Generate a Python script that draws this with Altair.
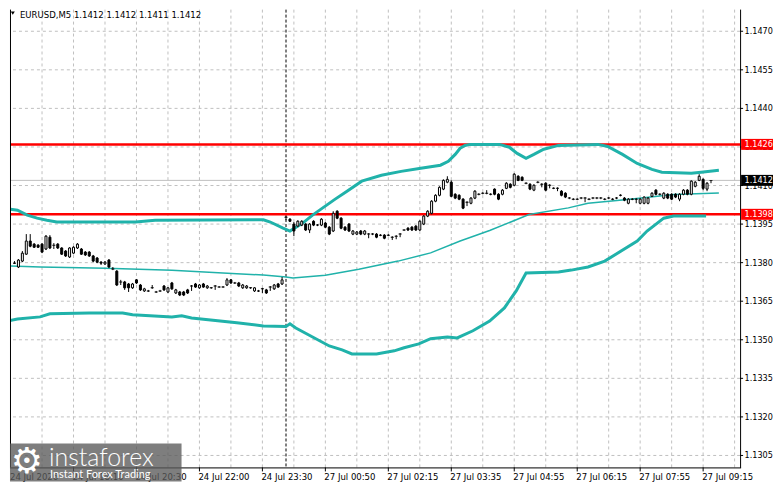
import altair as alt
import pandas as pd

# ---------------- data ----------------
opens = [
    1.13798, 1.13783, 1.13806, 1.13833, 1.13884, 1.13872, 1.13868, 1.13872, 1.13853, 1.13899,
    1.13868, 1.13872, 1.13857, 1.13845, 1.13822, 1.13837, 1.13857, 1.13853, 1.13841, 1.13841,
    1.13826, 1.13818, 1.13802, 1.13795, 1.13810, 1.13775, 1.13767, 1.13725, 1.13725, 1.13717,
    1.13702, 1.13733, 1.13713, 1.13690, 1.13690, 1.13702, 1.13686, 1.13690, 1.13709, 1.13686,
    1.13721, 1.13682, 1.13686, 1.13686, 1.13694, 1.13709, 1.13717, 1.13702, 1.13717, 1.13702,
    1.13702, 1.13709, 1.13705, 1.13705, 1.13713, 1.13733, 1.13721, 1.13721, 1.13702, 1.13702,
    1.13702, 1.13690, 1.13690, 1.13698, 1.13694, 1.13705, 1.13698, 1.13717, 1.13717, 1.13977,
    1.13969, 1.13950, 1.13942, 1.13946, 1.13950, 1.13927, 1.13961, 1.13946, 1.13946, 1.13954,
    1.13938, 1.13923, 1.14000, 1.13973, 1.13938, 1.13950, 1.13911, 1.13911, 1.13923, 1.13911,
    1.13911, 1.13911, 1.13911, 1.13907, 1.13907, 1.13907, 1.13899, 1.13903, 1.13911, 1.13927,
    1.13934, 1.13938, 1.13942, 1.13927, 1.13950, 1.13981, 1.13992, 1.14039, 1.14062, 1.14086,
    1.14113, 1.14113, 1.14066, 1.14062, 1.14047, 1.14035, 1.14031, 1.14051, 1.14066, 1.14070,
    1.14070, 1.14066, 1.14086, 1.14066, 1.14066, 1.14089, 1.14105, 1.14101, 1.14136, 1.14132,
    1.14109, 1.14105, 1.14082, 1.14113, 1.14105, 1.14109, 1.14101, 1.14089, 1.14089, 1.14078,
    1.14070, 1.14051, 1.14047, 1.14047, 1.14051, 1.14051, 1.14047, 1.14051, 1.14051, 1.14051,
    1.14047, 1.14051, 1.14047, 1.14051, 1.14062, 1.14051, 1.14031, 1.14047, 1.14047, 1.14031,
    1.14031, 1.14031, 1.14058, 1.14082, 1.14066, 1.14051, 1.14066, 1.14066, 1.14066, 1.14047,
    1.14066, 1.14082, 1.14066, 1.14097, 1.14120, 1.14124, 1.14086, 1.14120,
]
highs = [
    1.13806, 1.13814, 1.13845, 1.13911, 1.13911, 1.13876, 1.13872, 1.13876, 1.13907, 1.13907,
    1.13876, 1.13876, 1.13860, 1.13849, 1.13860, 1.13864, 1.13876, 1.13857, 1.13845, 1.13845,
    1.13830, 1.13822, 1.13806, 1.13806, 1.13814, 1.13783, 1.13771, 1.13733, 1.13729, 1.13721,
    1.13721, 1.13736, 1.13717, 1.13702, 1.13694, 1.13713, 1.13690, 1.13694, 1.13713, 1.13705,
    1.13725, 1.13698, 1.13690, 1.13690, 1.13698, 1.13713, 1.13721, 1.13717, 1.13721, 1.13713,
    1.13705, 1.13713, 1.13709, 1.13709, 1.13740, 1.13736, 1.13725, 1.13725, 1.13717, 1.13713,
    1.13705, 1.13705, 1.13694, 1.13702, 1.13698, 1.13709, 1.13717, 1.13721, 1.13744, 1.13981,
    1.13973, 1.13958, 1.13965, 1.13965, 1.13954, 1.13954, 1.13965, 1.13950, 1.13973, 1.13958,
    1.13942, 1.14000, 1.14004, 1.13977, 1.13942, 1.13954, 1.13927, 1.13923, 1.13927, 1.13927,
    1.13915, 1.13915, 1.13915, 1.13911, 1.13911, 1.13911, 1.13903, 1.13907, 1.13915, 1.13930,
    1.13938, 1.13942, 1.13946, 1.13965, 1.13985, 1.14004, 1.14043, 1.14066, 1.14097, 1.14124,
    1.14136, 1.14120, 1.14070, 1.14066, 1.14051, 1.14039, 1.14055, 1.14082, 1.14070, 1.14074,
    1.14082, 1.14070, 1.14089, 1.14070, 1.14086, 1.14113, 1.14109, 1.14148, 1.14140, 1.14136,
    1.14113, 1.14109, 1.14105, 1.14117, 1.14109, 1.14113, 1.14105, 1.14093, 1.14093, 1.14082,
    1.14074, 1.14055, 1.14051, 1.14051, 1.14055, 1.14055, 1.14051, 1.14055, 1.14055, 1.14055,
    1.14051, 1.14055, 1.14051, 1.14055, 1.14066, 1.14055, 1.14051, 1.14051, 1.14051, 1.14051,
    1.14058, 1.14055, 1.14074, 1.14086, 1.14070, 1.14074, 1.14070, 1.14070, 1.14070, 1.14070,
    1.14086, 1.14086, 1.14120, 1.14117, 1.14144, 1.14128, 1.14113, 1.14120,
]
lows = [
    1.13795, 1.13779, 1.13802, 1.13830, 1.13860, 1.13857, 1.13857, 1.13837, 1.13849, 1.13853,
    1.13853, 1.13853, 1.13830, 1.13822, 1.13818, 1.13833, 1.13853, 1.13830, 1.13826, 1.13822,
    1.13802, 1.13798, 1.13791, 1.13791, 1.13779, 1.13771, 1.13709, 1.13713, 1.13694, 1.13686,
    1.13698, 1.13717, 1.13690, 1.13686, 1.13686, 1.13698, 1.13682, 1.13686, 1.13690, 1.13682,
    1.13694, 1.13678, 1.13670, 1.13670, 1.13678, 1.13690, 1.13702, 1.13698, 1.13702, 1.13698,
    1.13698, 1.13694, 1.13702, 1.13702, 1.13709, 1.13717, 1.13717, 1.13705, 1.13698, 1.13698,
    1.13698, 1.13686, 1.13686, 1.13682, 1.13678, 1.13690, 1.13694, 1.13702, 1.13713, 1.13965,
    1.13958, 1.13903, 1.13938, 1.13942, 1.13923, 1.13915, 1.13942, 1.13942, 1.13942, 1.13934,
    1.13907, 1.13919, 1.13969, 1.13930, 1.13923, 1.13919, 1.13907, 1.13907, 1.13907, 1.13907,
    1.13895, 1.13907, 1.13895, 1.13903, 1.13891, 1.13903, 1.13888, 1.13891, 1.13899, 1.13923,
    1.13923, 1.13923, 1.13923, 1.13923, 1.13946, 1.13977, 1.13988, 1.14035, 1.14058, 1.14082,
    1.14109, 1.14055, 1.14047, 1.14043, 1.14008, 1.14020, 1.14027, 1.14047, 1.14062, 1.14066,
    1.14066, 1.14062, 1.14062, 1.14043, 1.14062, 1.14086, 1.14089, 1.14097, 1.14117, 1.14117,
    1.14105, 1.14082, 1.14078, 1.14109, 1.14093, 1.14078, 1.14089, 1.14086, 1.14078, 1.14058,
    1.14051, 1.14047, 1.14043, 1.14043, 1.14047, 1.14035, 1.14043, 1.14047, 1.14047, 1.14047,
    1.14043, 1.14047, 1.14043, 1.14047, 1.14058, 1.14039, 1.14027, 1.14043, 1.14031, 1.14027,
    1.14027, 1.14027, 1.14055, 1.14062, 1.14062, 1.14047, 1.14047, 1.14043, 1.14051, 1.14039,
    1.14062, 1.14062, 1.14062, 1.14093, 1.14117, 1.14082, 1.14078, 1.14109,
]
closes = [
    1.13798, 1.13810, 1.13837, 1.13884, 1.13864, 1.13860, 1.13860, 1.13841, 1.13903, 1.13857,
    1.13868, 1.13857, 1.13833, 1.13826, 1.13857, 1.13860, 1.13872, 1.13833, 1.13830, 1.13826,
    1.13806, 1.13802, 1.13798, 1.13802, 1.13783, 1.13775, 1.13713, 1.13725, 1.13702, 1.13702,
    1.13717, 1.13721, 1.13694, 1.13698, 1.13690, 1.13702, 1.13686, 1.13690, 1.13694, 1.13702,
    1.13698, 1.13694, 1.13674, 1.13674, 1.13682, 1.13709, 1.13705, 1.13713, 1.13705, 1.13709,
    1.13702, 1.13709, 1.13705, 1.13705, 1.13733, 1.13721, 1.13721, 1.13709, 1.13713, 1.13709,
    1.13702, 1.13702, 1.13690, 1.13698, 1.13682, 1.13705, 1.13713, 1.13705, 1.13733, 1.13977,
    1.13961, 1.13923, 1.13961, 1.13961, 1.13927, 1.13950, 1.13946, 1.13946, 1.13969, 1.13938,
    1.13911, 1.13992, 1.13973, 1.13934, 1.13927, 1.13923, 1.13923, 1.13919, 1.13911, 1.13923,
    1.13911, 1.13911, 1.13899, 1.13907, 1.13895, 1.13907, 1.13899, 1.13903, 1.13911, 1.13927,
    1.13927, 1.13927, 1.13927, 1.13961, 1.13981, 1.14000, 1.14039, 1.14062, 1.14093, 1.14120,
    1.14124, 1.14058, 1.14051, 1.14047, 1.14012, 1.14035, 1.14051, 1.14078, 1.14066, 1.14070,
    1.14070, 1.14066, 1.14066, 1.14047, 1.14082, 1.14109, 1.14093, 1.14144, 1.14120, 1.14120,
    1.14109, 1.14086, 1.14101, 1.14113, 1.14105, 1.14082, 1.14101, 1.14089, 1.14089, 1.14062,
    1.14055, 1.14051, 1.14047, 1.14047, 1.14051, 1.14051, 1.14047, 1.14051, 1.14051, 1.14051,
    1.14047, 1.14051, 1.14047, 1.14051, 1.14062, 1.14043, 1.14047, 1.14047, 1.14047, 1.14047,
    1.14055, 1.14051, 1.14070, 1.14066, 1.14066, 1.14070, 1.14051, 1.14047, 1.14055, 1.14066,
    1.14082, 1.14066, 1.14117, 1.14113, 1.14136, 1.14089, 1.14109, 1.14120,
]
first_bar = 1

# Bollinger upper / lower bands and the middle moving average (bar index, price)
upper_bar = [0, 1.75, 4.25, 6.75, 9.25, 11.75, 31.75, 36.75, 64.25, 66, 69.25, 71,
             74.25, 76.75, 79.25, 82.5, 85.5, 89.25, 94.25, 99.25, 104.25, 109.25, 111.25, 113,
             114.25, 115.5, 116.75, 124.25, 126.75, 128.75, 131, 133, 135.5, 139.25, 149.25, 151.75,
             155.5, 159.25, 163, 165.5, 173, 175.5, 180]
upper_val = [1.14008, 1.14004, 1.13985, 1.13973, 1.13965, 1.13958, 1.13958, 1.13965, 1.13967, 1.13958, 1.13934, 1.13923,
             1.13954, 1.13985, 1.14012, 1.14047, 1.14078, 1.14117, 1.14140, 1.14155, 1.14167, 1.14179, 1.14194, 1.14221,
             1.14245, 1.14256, 1.14260, 1.14260, 1.14249, 1.14225, 1.14206, 1.14221, 1.14241, 1.14256, 1.14260, 1.14252,
             1.14221, 1.14186, 1.14163, 1.14152, 1.14148, 1.14152, 1.14159]
lower_bar = [-0.75, 1.75, 7.5, 10, 20, 28.5, 31, 41, 43.5, 46,
             57.5, 64.25, 70, 71, 72.5, 76.75, 81, 84.25, 86.75, 93,
             97.5, 100, 103.75, 106.75, 111, 113.5, 117.5, 121.75, 125.5, 128.5,
             131, 139.25, 142.5, 146.75, 151, 159.25, 161.75, 166, 168.5, 176.75]
lower_val = [1.13573, 1.13581, 1.13589, 1.13601, 1.13604, 1.13604, 1.13597, 1.13589, 1.13593, 1.13585,
             1.13566, 1.13554, 1.13552, 1.13562, 1.13546, 1.13511, 1.13476, 1.13461, 1.13445, 1.13445,
             1.13457, 1.13469, 1.13484, 1.13504, 1.13511, 1.13507, 1.13535, 1.13573, 1.13624, 1.13690,
             1.13760, 1.13764, 1.13771, 1.13783, 1.13806, 1.13884, 1.13923, 1.13973, 1.13981, 1.13981]
ma_bar = [0, 7.5, 24.25, 41, 57.5, 64.25, 70, 71.75, 80, 88.5,
          98.5, 106.75, 114.25, 121.75, 131.75, 141.75, 146.75, 156.75, 168.5, 180]
ma_val = [1.13787, 1.13783, 1.13778, 1.13770, 1.13757, 1.13752, 1.13744, 1.13740, 1.13751, 1.13774,
          1.13806, 1.13838, 1.13884, 1.13925, 1.13987, 1.14013, 1.14031, 1.14046, 1.14065, 1.14071]

price_ticks = [1.1470, 1.1455, 1.1440, 1.1425, 1.1410, 1.1395, 1.1380, 1.1365, 1.1350, 1.1335, 1.1320, 1.1305]
time_ticks = [16, 32, 48, 64, 80, 96, 112, 128, 144, 160, 176]
time_labels = ["24 Jul 18:10", "24 Jul 20:30", "24 Jul 22:00", "24 Jul 23:30", "27 Jul 00:50",
               "27 Jul 02:15", "27 Jul 03:35", "27 Jul 04:55", "27 Jul 06:15", "27 Jul 07:55", "27 Jul 09:15"]
first_time_label = ["24 Jul 2026"]
grid_bars = [8, 16, 24, 32, 40, 48, 56, 64, 72, 80, 88, 96, 104, 112, 120, 128, 136, 144,
             152, 160, 168, 176, 184]
separator_bar = [70]

level_values = [1.1426, 1.13988]
last_price = [1.1412]
tag_values = [1.1426, 1.13988, 1.1412]
tag_texts = ["1.1426", "1.1398", "1.1412"]
tag_colors = ["#FF0000", "#FF0000", "#000000"]

title_text = ["EURUSD,M5  1.1412 1.1412 1.1411 1.1412"]
logo_main = ["instaforex"]
logo_sub = ["Instant Forex Trading"]

# ---------------- chart ----------------
FONT = "Tahoma, 'DejaVu Sans Condensed', 'Liberation Sans', sans-serif"
FS = 9.5
FSY = 9
TEAL = "#20B2AA"
W, H = 732, 459
xs = alt.Scale(domain=[1.125, 184.125], nice=False, zero=False)
ys = alt.Scale(domain=[1.130035, 1.147842], nice=False, zero=False)

cdf = pd.DataFrame({"bar": list(range(first_bar, first_bar + len(closes))),
                    "o": opens, "h": highs, "l": lows, "c": closes})


def X(f):
    return alt.X(f, scale=xs, axis=None)


def Y(f):
    return alt.Y(f, scale=ys, axis=None)


one = pd.DataFrame({"n": [1]})
pdf = pd.DataFrame({"p": price_ticks})
tdf_ticks = pd.DataFrame({"k": time_ticks, "t": time_labels})

hgrid = alt.Chart(pdf).mark_rule(color="#C0C0C0", strokeDash=[3, 3], strokeWidth=1).encode(y=Y("p:Q"))
vgrid = alt.Chart(pd.DataFrame({"g": grid_bars})).mark_rule(
    color="#C0C0C0", strokeDash=[3, 3], strokeWidth=1).encode(x=X("g:Q"))
pline = alt.Chart(pd.DataFrame({"p": last_price})).mark_rule(
    color="#C0C0C0", strokeWidth=1).encode(y=Y("p:Q"))
sep = alt.Chart(pd.DataFrame({"s": separator_bar})).mark_rule(
    color="black", strokeDash=[3, 2], strokeWidth=1).encode(x=X("s:Q"))
levels = alt.Chart(pd.DataFrame({"p": level_values})).mark_rule(
    color="#FF0000", strokeWidth=2.5).encode(y=Y("p:Q"))

upper = alt.Chart(pd.DataFrame({"bar": upper_bar, "v": upper_val})).mark_line(
    color=TEAL, strokeWidth=3, clip=True).encode(x=X("bar:Q"), y=Y("v:Q"))
lower = alt.Chart(pd.DataFrame({"bar": lower_bar, "v": lower_val})).mark_line(
    color=TEAL, strokeWidth=3, clip=True).encode(x=X("bar:Q"), y=Y("v:Q"))
ma = alt.Chart(pd.DataFrame({"bar": ma_bar, "v": ma_val})).mark_line(
    color=TEAL, strokeWidth=1.5, clip=True).encode(x=X("bar:Q"), y=Y("v:Q"))

wicks = alt.Chart(cdf).mark_rule(color="black", strokeWidth=1, clip=True).encode(
    x=X("bar:Q"), y=Y("l:Q"), y2="h:Q")
bodies = alt.Chart(cdf).transform_filter("datum.o != datum.c").mark_bar(
    size=2, stroke="black", strokeWidth=1, clip=True, orient="vertical").encode(
    x=X("bar:Q"), y=Y("o:Q"), y2="c:Q",
    fill=alt.condition("datum.c < datum.o", alt.value("black"), alt.value("white")))
dojis = alt.Chart(cdf).transform_filter("datum.o == datum.c").mark_tick(
    orient="horizontal", size=3, thickness=1, color="black", opacity=1, clip=True).encode(
    x=X("bar:Q"), y=Y("o:Q"))

# axes drawn from the tick lists
left_border = alt.Chart(one).mark_rule(color="black", strokeWidth=1).encode(
    x=alt.value(0.5), y=alt.value(0), y2=alt.value(H))
right_domain = alt.Chart(one).mark_rule(color="black", strokeWidth=1).encode(
    x=alt.value(W + 0.5), y=alt.value(0), y2=alt.value(H + 0.5))
bottom_domain = alt.Chart(one).mark_rule(color="black", strokeWidth=1).encode(
    x=alt.value(0), x2=alt.value(W + 1), y=alt.value(H + 0.5))
y_ticks = alt.Chart(pdf).mark_rule(color="black", strokeWidth=1).encode(
    x=alt.value(W), x2=alt.value(W + 3), y=Y("p:Q"))
y_labels = alt.Chart(pdf).mark_text(align="left", baseline="middle", font=FONT, fontSize=FSY,
                                    color="black").encode(
    x=alt.value(W + 4.5), y=Y("p:Q"), text=alt.Text("p:Q", format=".4f"))
x_ticks = alt.Chart(tdf_ticks).mark_rule(color="black", strokeWidth=1).encode(
    x=X("k:Q"), y=alt.value(H), y2=alt.value(H + 4))
x_labels = alt.Chart(tdf_ticks).mark_text(align="left", baseline="top", font=FONT, fontSize=FS,
                                          color="black", dx=-1).encode(
    x=X("k:Q"), y=alt.value(H + 4.5), text="t:N")
x_first = alt.Chart(pd.DataFrame({"t": first_time_label})).mark_text(
    align="left", baseline="top", font=FONT, fontSize=FS, color="black").encode(
    x=alt.value(0), y=alt.value(H + 4.5), text="t:N")

tdf = pd.DataFrame({"t": title_text})
tri = alt.Chart(tdf).mark_point(shape="triangle-down", filled=True, color="black", size=16,
                                opacity=1).encode(x=alt.value(2.8), y=alt.value(3.5))
title = alt.Chart(tdf).mark_text(align="left", baseline="top", font=FONT, fontSize=FS,
                                 color="black").encode(x=alt.value(10), y=alt.value(0.5), text="t:N")

tags = pd.DataFrame({"p": tag_values, "t": tag_texts, "col": tag_colors})
tag_box = alt.Chart(tags).mark_tick(orient="horizontal", size=32, thickness=11, opacity=1).encode(
    x=alt.value(W + 17), y=Y("p:Q"), color=alt.Color("col:N", scale=None))
tag_txt = alt.Chart(tags).mark_text(align="left", baseline="middle", font=FONT, fontSize=FSY,
                                    color="white").encode(x=alt.value(W + 4.5), y=Y("p:Q"), text="t:N")

ldf = pd.DataFrame({"a": logo_main, "b": logo_sub})
logo_box = alt.Chart(ldf).mark_rect(color="#5a5a5a", opacity=0.78).encode(
    x=alt.value(0), x2=alt.value(172), y=alt.value(435), y2=alt.value(473))
gear = alt.Chart(ldf).mark_text(text="\u2699", font="DejaVu Sans", fontSize=36, color="white",
                                align="center", baseline="middle").encode(x=alt.value(17), y=alt.value(454))
logo1 = alt.Chart(ldf).mark_text(align="left", baseline="alphabetic", font="Lato", fontWeight=300,
                                 fontSize=25, color="white").encode(x=alt.value(39), y=alt.value(458), text="a:N")
logo2 = alt.Chart(ldf).mark_text(align="left", baseline="alphabetic", font="Lato", fontSize=11,
                                 color="white").encode(x=alt.value(40), y=alt.value(470), text="b:N")

chart = alt.layer(
    hgrid, vgrid, pline, sep, levels, upper, lower, ma, wicks, bodies, dojis,
    left_border, right_domain, bottom_domain, y_ticks, y_labels, x_ticks, x_labels, x_first,
    tri, title, tag_box, tag_txt, logo_box, gear, logo1, logo2
).properties(
    width=W, height=H, background="white",
    padding={"left": 0, "top": 0, "right": 0, "bottom": 0}
).configure_view(strokeWidth=0)

chart.save("out.html", embed_options={"renderer": "svg", "actions": False})
